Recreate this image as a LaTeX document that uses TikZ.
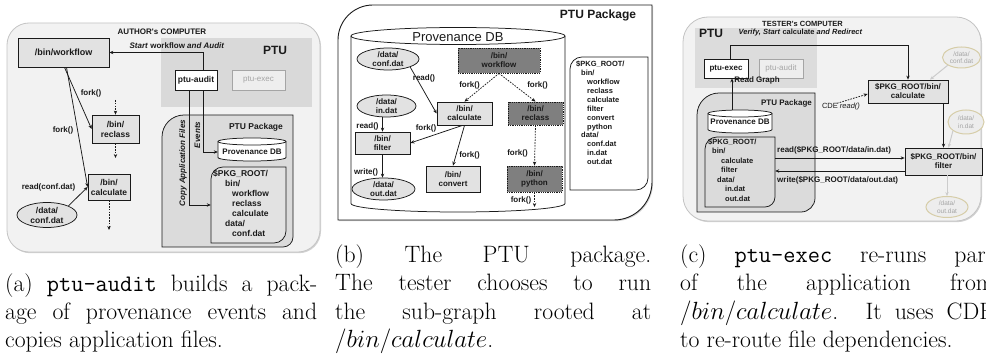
\documentclass[tikz,border=0pt]{standalone}
\usepackage{fontspec}
\newfontfamily\arial{Liberation Sans}
\usetikzlibrary{arrows.meta,shadows,calc,shapes.geometric}
\definecolor{panelbg}{HTML}{F2F2F2}
\definecolor{panelline}{HTML}{C4C4C4}
\definecolor{ptubg}{HTML}{D9D9D9}
\definecolor{boxbg}{HTML}{E2E2E2}
\definecolor{pkgbg}{HTML}{DBDBDB}
\definecolor{darkbox}{HTML}{7F7F7F}
\definecolor{ghost}{HTML}{A5A5A5}
\definecolor{beige}{HTML}{D6CDA8}
\definecolor{ellbg}{HTML}{EDEDED}
\definecolor{ink}{HTML}{1A1A1A}
\tikzset{
 lbl/.style={font=\arial\bfseries\fontsize{8}{9}\selectfont, inner sep=0pt, align=center, text=ink},
 boxn/.style={lbl, draw=ink, fill=boxbg, line width=0.75pt},
 whitebox/.style={boxn, fill=white},
 ghostbox/.style={lbl, draw=ghost, fill=boxbg!60, line width=0.75pt, text=ghost, font=\arial\fontsize{8}{9}\selectfont},
 darkn/.style={boxn, fill=darkbox, dash pattern=on 1pt off 0.8pt},
 elln/.style={lbl, ellipse, draw=ink, fill=boxbg, line width=0.75pt},
 ghostell/.style={lbl, ellipse, draw=beige, fill=ellbg, line width=1pt, text=ghost, font=\arial\fontsize{6.5}{7.5}\selectfont},
 conn/.style={draw=ink, line width=0.75pt, -{Stealth[length=4pt,width=3.4pt]}},
 dconn/.style={conn, dash pattern=on 1.6pt off 1.2pt},
 ghostconn/.style={draw=black!20, line width=1pt, -{Stealth[length=4pt,width=3.4pt]}},
 panel/.style={draw=panelline, fill=panelbg, line width=0.8pt, drop shadow={shadow xshift=1pt, shadow yshift=-1.2pt, opacity=0.35}},
 ptureg/.style={fill=ptubg, draw=none},
 pkgreg/.style={fill=pkgbg, draw=ink, line width=0.75pt},
 cylfill/.style={fill=white, draw=ink, line width=0.75pt},
 listtxt/.style={lbl, align=left, anchor=north west},
 captxt/.style={inner sep=0pt, anchor=base west, font=\normalfont\fontsize{23.7}{28.4}\selectfont, text=black},
}
\begin{document}
\begin{tikzpicture}[x=1pt,y=-1pt]
\useasboundingbox (0,0) rectangle (986,358);
\fill[white] (0,0) rectangle (986,358);

%%%%%%%%%%%%%%%% Panel (a)
\node[panel, rounded corners=22pt, minimum width=313pt, minimum height=229pt, inner sep=0pt] (outerA) at (163.5,137.5) {};
\node[lbl] (authA) at (162,32) {AUTHOR's COMPUTER};
\node[ptureg, minimum width=151pt, minimum height=69pt, inner sep=0pt] (ptuA) at (236.5,72.5) {};
\node[lbl, font=\arial\bfseries\fontsize{12}{14}\selectfont] (ptuAlab) at (275,50) {PTU};
\node[boxn, minimum width=91pt, minimum height=29pt, font=\arial\bfseries\fontsize{9}{10}\selectfont] (wfA) at (63.5,52.5) {/bin/workflow};
\node[whitebox, minimum width=42pt, minimum height=20pt, font=\arial\bfseries\fontsize{8.5}{10}\selectfont] (auditA) at (196,80) {ptu-audit};
\node[ghostbox, minimum width=53pt, minimum height=20pt] (execA) at (258.5,80) {ptu-exec};
\draw[conn] ([xshift=7pt]auditA.north) |- (wfA.east);
\node[lbl] (startA) at (177,46) {\textit{Start} workflow \textit{and Audit}};

\filldraw[pkgreg] (162,247) -- (162,137) arc(180:270:22) -- (293,115) -- (293,237) arc(0:90:10) -- cycle;
\node[lbl, font=\arial\bfseries\fontsize{8.5}{10}\selectfont] (pkgAlab) at (256,127) {PTU Package};

\filldraw[cylfill] (218,141.5) -- (218,157.5) arc(180:0:34 and 3.5) -- (286,141.5) arc(0:-180:34 and 3.5) -- cycle;
\draw[ink, line width=0.75pt] (218,141.5) arc(180:0:34 and 3.5);
\node[lbl, minimum width=68pt, minimum height=16pt] (provA) at (252,152) {Provenance DB};

\filldraw[pkgreg, fill=boxbg] (211,243) -- (211,179) arc(180:270:12) -- (286,167) -- (286,231) arc(0:90:12) -- cycle;
\node[minimum width=75pt, minimum height=76pt, inner sep=0pt] (pkgA) at (248.5,205) {};
\node[listtxt, font=\arial\bfseries\fontsize{8.5}{10}\selectfont] (pkgAtxt) at (213,170) {\$PKG\_ROOT/\\\hspace*{12pt}bin/\\\hspace*{19pt}workflow\\\hspace*{19pt}reclass\\\hspace*{19pt}calculate\\\hspace*{12pt}data/\\\hspace*{19pt}conf.dat};

\draw[conn] ([xshift=7pt]auditA.south) |- (provA.west);
\draw[conn] ([xshift=-6.5pt]auditA.south) |- (pkgA.west);
\node[lbl, rotate=90, font=\arial\bfseries\itshape\fontsize{8}{9}\selectfont] (evA) at (197.5,135) {Events};
\node[lbl, rotate=90, font=\arial\bfseries\itshape\fontsize{8}{9}\selectfont] (copyA) at (183,163) {Copy Application Files};

\node[boxn, minimum width=47pt, minimum height=28pt, font=\arial\bfseries\fontsize{8.5}{10}\selectfont] (reclassA) at (115.5,129) {/bin/\\reclass};
\node[boxn, minimum width=42pt, minimum height=26pt, font=\arial\bfseries\fontsize{8.5}{10}\selectfont] (calcA) at (109,187) {/bin/\\calculate};
\node[elln, minimum width=60pt, minimum height=25pt, font=\arial\bfseries\fontsize{8.5}{10}\selectfont] (confA) at (47,215) {/data/\\conf.dat};

\draw[conn] ([xshift=1pt]wfA.south) -- (reclassA.west);
\draw[conn] ([xshift=3pt]wfA.south) -- (calcA.west);
\node[lbl] (fork1A) at (91,93) {fork()};
\node[lbl] (fork2A) at (63,130) {fork()};
\coordinate (rinA) at (115.5,100);
\draw[dconn] (rinA) -- (reclassA.north);
\coordinate (routA) at (115.5,158);
\draw[dconn] (reclassA.south) -- (routA);
\coordinate (coutA) at (109,230);
\draw[dconn] (calcA.south) -- (coutA);
\draw[conn] (confA.north east) -- (calcA.west);
\node[lbl] (readA) at (48.5,187) {read(conf.dat)};

%%%%%%%%%%%%%%%% Panel (b)
\filldraw[fill=white, draw=ink, line width=0.9pt, drop shadow={shadow xshift=1pt, shadow yshift=-1.2pt, opacity=0.35}] (338,220) -- (338,40) arc(180:270:35) -- (652,5) -- (652,182) arc(0:90:38) -- cycle;
\node[lbl, font=\arial\bfseries\fontsize{12}{14}\selectfont] (pkgBlab) at (598,15) {PTU Package};

\filldraw[cylfill] (351,36) -- (351,203.5) arc(180:0:107 and 8.5) -- (565,36) arc(0:-180:107 and 8.5) -- cycle;
\draw[ink, line width=0.75pt] (351,36) arc(180:0:107 and 8.5);
\node[inner sep=0pt, font=\arial\fontsize{13}{15}\selectfont, text=ink] (provB) at (458,37) {Provenance DB};

\node[elln, minimum width=62pt, minimum height=22pt] (confB) at (388,59) {/data/\\conf.dat};
\node[elln, minimum width=59pt, minimum height=22pt] (inB) at (386.5,106) {/data/\\in.dat};
\node[elln, minimum width=63pt, minimum height=22pt] (outB) at (383.5,189) {/data/\\out.dat};
\node[darkn, minimum width=82pt, minimum height=25pt] (wfB) at (499,60.5) {/bin/\\workflow};
\node[boxn, minimum width=55pt, minimum height=23pt] (calcB) at (464.5,113.5) {/bin/\\calculate};
\node[darkn, minimum width=55pt, minimum height=23pt] (reclassB) at (535.5,113.5) {/bin/\\reclass};
\node[boxn, minimum width=55pt, minimum height=22pt] (filterB) at (382.5,143) {/bin/\\filter};
\node[boxn, minimum width=54pt, minimum height=26pt] (convertB) at (453,179) {/bin/\\convert};
\node[darkn, minimum width=55pt, minimum height=26pt] (pythonB) at (534.5,179) {/bin/\\python};

\filldraw[fill=white, draw=ink, line width=0.75pt] (570,190) -- (570,69) arc(180:270:12) -- (648,57) -- (648,178) arc(0:90:12) -- cycle;
\node[listtxt, font=\arial\bfseries\fontsize{7.5}{8.9}\selectfont] (pkgBtxt) at (576,61) {\$PKG\_ROOT/\\\hspace*{5pt}bin/\\\hspace*{11pt}workflow\\\hspace*{11pt}reclass\\\hspace*{11pt}calculate\\\hspace*{11pt}filter\\\hspace*{11pt}convert\\\hspace*{11pt}python\\\hspace*{5pt}data/\\\hspace*{11pt}conf.dat\\\hspace*{11pt}in.dat\\\hspace*{11pt}out.dat};

\draw[conn] (confB.south east) -- (calcB.west);
\node[lbl] (read1B) at (424,78) {read()};
\draw[conn] (filterB.north |- inB.south) -- (filterB.north);
\node[lbl] (read2B) at (367.5,126) {read()};
\draw[dconn] (wfB.south) -- (calcB.north);
\draw[dconn] (wfB.south) -- (reclassB.north);
\node[lbl] (fork1B) at (469.5,85) {fork()};
\node[lbl] (fork2B) at (537.5,85) {fork()};
\draw[conn] ([xshift=-2pt]calcB.south) -- (filterB.east);
\node[lbl] (fork3B) at (426,128) {fork()};
\draw[conn] (calcB.south) -- (convertB.north);
\node[lbl] (fork4B) at (469.5,155) {fork()};
\draw[dconn] (reclassB.south) -- (pythonB.north);
\node[lbl] (fork5B) at (517.5,153) {fork()};
\coordinate (poutB) at (534.5,207);
\draw[dconn] (pythonB.south) -- (poutB);
\node[lbl] (fork6B) at (521,200) {fork()};
\draw[conn] (filterB.south) -- (filterB.south |- outB.north);
\node[lbl] (writeB) at (366,172) {write()};

%%%%%%%%%%%%%%%% Panel (c)
\node[panel, rounded corners=25pt, minimum width=298pt, minimum height=204pt, inner sep=0pt] (outerC) at (832,119) {};
\node[lbl, font=\arial\bfseries\fontsize{7.5}{9}\selectfont] (testC) at (802.5,24) {TESTER's COMPUTER};
\node[ptureg, fill opacity=0.85, minimum width=122pt, minimum height=60pt, inner sep=0pt] (ptuC) at (756,58) {};
\node[lbl, font=\arial\bfseries\fontsize{12}{14}\selectfont] (ptuClab) at (711,33) {PTU};
\node[lbl, font=\arial\bfseries\fontsize{7.5}{9}\selectfont] (verC) at (800.5,33) {\textit{Verify, Start} calculate \textit{and Redirect}};
\node[whitebox, minimum width=44pt, minimum height=19pt] (execC) at (726,68.5) {ptu-exec};
\node[ghostbox, minimum width=44pt, minimum height=19pt] (auditC) at (781,68.5) {ptu-audit};
\node[boxn, minimum width=80pt, minimum height=23pt] (calcC) at (908,91.5) {\$PKG\_ROOT/bin/\\calculate};
\draw[conn] ([xshift=4pt]execC.north) -- ++(0,-13) -| (calcC.north);

\filldraw[pkgreg] (697,212) -- (697,115) arc(180:270:22) -- (815,93) -- (815,198) arc(0:90:14) -- cycle;
\node[lbl] (pkgClab) at (786.5,103) {PTU Package};
\filldraw[cylfill] (708,113.5) -- (708,129.5) arc(180:0:32 and 3.5) -- (772,113.5) arc(0:-180:32 and 3.5) -- cycle;
\draw[ink, line width=0.75pt] (708,113.5) arc(180:0:32 and 3.5);
\node[lbl, minimum width=64pt, minimum height=23pt] (provC) at (740,122) {Provenance DB};

\filldraw[pkgreg] (705,207) -- (705,149) arc(180:270:12) -- (775,137) -- (775,197) arc(0:90:10) -- cycle;
\node[minimum width=70pt, minimum height=70pt, inner sep=0pt] (pkgC) at (740,172) {};
\node[listtxt, font=\arial\bfseries\fontsize{7.5}{9.5}\selectfont] (pkgCtxt) at (708,138.5) {\$PKG\_ROOT/\\\hspace*{4pt}bin/\\\hspace*{13pt}calculate\\\hspace*{13pt}filter\\\hspace*{9pt}data/\\\hspace*{17pt}in.dat\\\hspace*{17pt}out.dat};

\draw[conn] ([xshift=-8pt]provC.north) -- ([xshift=6pt]execC.south);
\node[lbl] (rgC) at (757,80) {Read Graph};
\node[lbl, font=\arial\fontsize{7.5}{9}\selectfont] (cdeC) at (841,107) {CDE \textit{read()}};
\draw[dconn] ([xshift=-4pt]cdeC.north) -- ([yshift=-2.5pt]calcC.west);

\node[boxn, minimum width=77pt, minimum height=27pt] (filterC) at (943.5,161.5) {\$PKG\_ROOT/bin/\\filter};
\draw[conn] (calcC.south -| filterC.north) -- (filterC.north);
\draw[conn] ([yshift=14pt]pkgC.east) -- ([yshift=14pt]pkgC.east -| filterC.west);
\draw[conn] ([yshift=1pt]pkgC.east -| filterC.west) -- ([yshift=1pt]pkgC.east);
\node[lbl, anchor=west] (rdC) at (777,150) {read(\$PKG\_ROOT/data/in.dat)};
\node[lbl, anchor=west] (wrC) at (777,180) {write(\$PKG\_ROOT/data/out.dat)};

\node[ghostell, minimum width=38pt, minimum height=21pt] (confC) at (961.5,57.5) {/data/\\conf.dat};
\node[ghostell, minimum width=36pt, minimum height=24pt] (inC) at (966,122) {/data/\\in.dat};
\node[ghostell, minimum width=42pt, minimum height=21pt] (outC) at (947,207) {/data/\\out.dat};
\draw[ghostconn] (confC.south west) -- ([xshift=22pt]calcC.north);
\draw[ghostconn] (inC.south west) -- ([xshift=5pt]filterC.north);
\draw[ghostconn] (filterC.south -| outC.north) -- (outC.north);

%%%%%%%%%%%%%%%% Captions
\node[captxt] (capA) at (5,291) {\parbox[t]{312pt}{(a) \texttt{ptu-audit} builds a pack-\linebreak age of provenance events and\linebreak copies application files.}};
\node[captxt] (capB) at (335,262.6) {\parbox[t]{316pt}{(b) The PTU package.\linebreak The tester chooses to run\linebreak the sub-graph rooted at\linebreak $/bin/calculate$.}};
\node[captxt] (capC) at (680,262.6) {\parbox[t]{314pt}{(c) \texttt{ptu-exec} re-runs part\linebreak of the application from\linebreak $/bin/calculate$. It uses CDE\linebreak to re-route file dependencies.}};
\end{tikzpicture}
\end{document}
